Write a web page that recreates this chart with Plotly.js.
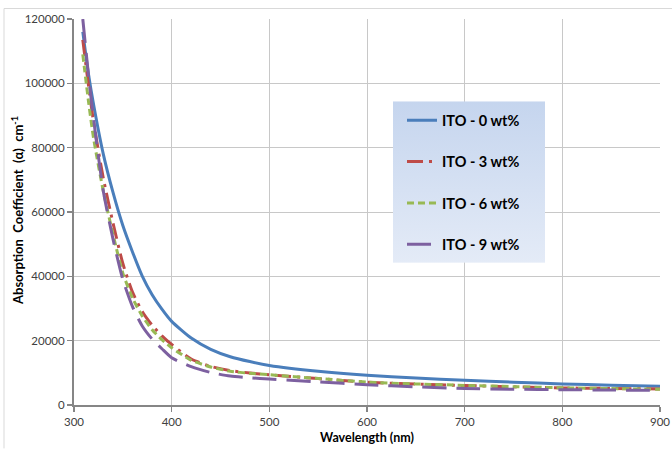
<!DOCTYPE html>
<html>
<head>
<meta charset="utf-8">
<script src="https://cdn.plot.ly/plotly-3.0.1.min.js"></script>
<style>html,body{margin:0;padding:0;background:#fff;}#chart{width:672px;height:449px;}</style>
</head>
<body>
<div id="chart"></div>
<script>
const wavelength = [309, 315, 320, 330, 340, 350, 360, 370, 380, 390, 400, 420, 440, 460, 480, 500, 550, 600, 650, 700, 750, 800, 850, 900];
const ito0 = [116000, 102500, 93500, 78000, 66000, 55800, 47500, 40000, 34300, 29800, 26000, 20800, 17300, 15000, 13500, 12300, 10500, 9250, 8400, 7700, 7100, 6550, 6150, 5800];
const ito3 = [113500, 99000, 88000, 70500, 56500, 44000, 35000, 29000, 24800, 21500, 18800, 14300, 12000, 10700, 9950, 9400, 8200, 7100, 6500, 6050, 5650, 5300, 5150, 5000];
const ito6 = [109000, 94000, 83000, 66500, 53000, 41000, 33200, 27600, 23400, 20300, 17800, 13900, 11800, 10500, 9850, 9400, 8250, 7100, 6550, 6100, 5700, 5350, 5100, 4900];
const ito9 = [120000, 102000, 89000, 66500, 51500, 39000, 30500, 24500, 20500, 17500, 14700, 11900, 10100, 9000, 8450, 8050, 7200, 6300, 5650, 5100, 4900, 4750, 4650, 4550];
const seriesNames = ['ITO - 0 wt%', 'ITO - 3 wt%', 'ITO - 6 wt%', 'ITO - 9 wt%'];
const xTicks = [300, 400, 500, 600, 700, 800, 900];
const yTicks = [0, 20000, 40000, 60000, 80000, 100000, 120000];
const xTitle = 'Wavelength (nm)';
const yTitle = 'Absorption\u00a0 Coefficient\u00a0 (\u03b1)\u00a0 cm<sup>-1</sup>';

const colors = ['#4A7EBB', '#BE4B48', '#98B954', '#7D60A0'];
const dashes = ['solid', '16px,6px,3px,6px', '7px,4px', '24px,10px'];
const values = [ito0, ito3, ito6, ito9];

const traces = values.map((v, i) => ({
  x: wavelength, y: v, type: 'scatter', mode: 'lines',
  name: seriesNames[i], legendgroup: 'g' + i,
  line: {color: colors[i], width: 3, dash: dashes[i], shape: 'spline', smoothing: 0.6}
}));

const gradSvg = '<svg xmlns="http://www.w3.org/2000/svg" width="100" height="100" preserveAspectRatio="none"><defs><linearGradient id="g" x1="0" y1="0" x2="0" y2="1"><stop offset="0" stop-color="#c5d5ee"/><stop offset="1" stop-color="#e4ebf7"/></linearGradient></defs><rect width="100" height="100" fill="url(#g)"/></svg>';
const gradUri = 'data:image/svg+xml;charset=utf-8,' + encodeURIComponent(gradSvg);

const L = 74, T = 18.5, W = 586, H = 387;
const px = x => (x - L) / W;
const py = y => (T + H - y) / H;

const tickFont = {family: 'Lato, "Liberation Sans", sans-serif', size: 11.5, color: '#404040'};
const titleFont = {family: 'Lato, "Liberation Sans", sans-serif', size: 12.5, color: '#000', weight: 'bold'};

const layout = {
  width: 672, height: 449,
  margin: {l: 74, r: 12, t: 18.5, b: 43.5, pad: 0},
  paper_bgcolor: '#fff', plot_bgcolor: '#fff',
  showlegend: true,
  xaxis: {
    range: [300, 900], tickvals: xTicks, ticktext: xTicks.map(String),
    showgrid: true, gridcolor: '#c8c8c8', gridwidth: 1,
    showline: true, linecolor: '#868686', linewidth: 2,
    ticks: 'outside', ticklen: 5, tickcolor: '#868686', tickwidth: 1.5,
    tickfont: tickFont, zeroline: false,
    title: {text: xTitle, font: titleFont, standoff: 6}
  },
  yaxis: {
    range: [0, 120000], tickvals: yTicks, ticktext: yTicks.map(String),
    showgrid: true, gridcolor: '#c8c8c8', gridwidth: 1,
    showline: true, linecolor: '#868686', linewidth: 2,
    ticks: 'outside', ticklen: 5, tickcolor: '#868686', tickwidth: 1.5,
    tickfont: tickFont, zeroline: false
  },
  annotations: [{
    text: yTitle, textangle: -90, xref: 'paper', yref: 'paper',
    x: px(17), y: py(211), xanchor: 'center', yanchor: 'middle',
    showarrow: false, font: {family: 'Lato, "Liberation Sans", sans-serif', size: 13, color: '#000', weight: 'bold'}
  }],
  legend: {
    x: px(402), y: py(104), xanchor: 'left', yanchor: 'top',
    bgcolor: 'rgba(0,0,0,0)', borderwidth: 0,
    traceorder: 'grouped', tracegroupgap: 19.5,
    font: {family: 'Lato, "Liberation Sans", sans-serif', size: 14.5, color: '#000', weight: 'bold'},
    itemwidth: 30
  },
  images: [{
    source: gradUri, xref: 'paper', yref: 'paper',
    x: px(393), y: py(101), sizex: 152 / W, sizey: 162 / H,
    xanchor: 'left', yanchor: 'top', sizing: 'stretch', layer: 'above'
  }],
  shapes: [
    {type: 'line', xref: 'paper', yref: 'paper', x0: px(4), x1: px(672), y0: py(8), y1: py(8), line: {color: '#d9d9d9', width: 1}},
    {type: 'line', xref: 'paper', yref: 'paper', x0: px(4), x1: px(4), y0: py(8), y1: py(449), line: {color: '#d9d9d9', width: 1}}
  ]
};

Plotly.newPlot('chart', traces, layout, {staticPlot: true, displayModeBar: false});
</script>
</body>
</html>
